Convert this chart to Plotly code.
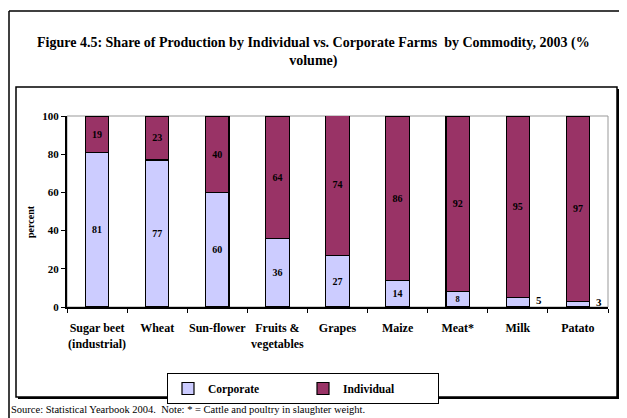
import plotly.graph_objects as go

categories = ["Sugar beet<br>(industrial)", "Wheat", "Sun-flower", "Fruits &<br>vegetables",
              "Grapes", "Maize", "Meat*", "Milk", "Patato"]
corporate = [81, 77, 60, 36, 27, 14, 8, 5, 3]
individual = [19, 23, 40, 64, 74, 86, 92, 95, 97]
y_ticks = [0, 20, 40, 60, 80, 100]

# page body has an 8px margin, so the figure is drawn 8px smaller and all
# positions below are given in window pixels
OFF = 8
W, H = 627 - OFF, 418 - OFF
L, R, T, B = 67, 608, 116, 307  # plot area in window pixels

def px(x):
    return (x - L) / (R - L)

def py(y):
    return (B - y) / (B - T)

FONT = "Liberation Serif"
small = 8  # values shown outside bar

fig = go.Figure()
fig.add_trace(go.Bar(
    x=categories, y=corporate, name="Corporate",
    marker=dict(color="#CCCCFF", line=dict(color="black", width=1.2)),
    text=[str(v) if v >= small else "" for v in corporate],
    textposition="inside", insidetextanchor="middle", textangle=0,
    textfont=dict(family=FONT, size=10, color="black", weight="bold"),
    width=0.39, hoverinfo="skip",
))
fig.add_trace(go.Bar(
    x=categories, y=individual, name="Individual",
    marker=dict(color="#993366", line=dict(color="black", width=1.2)),
    text=[str(v) for v in individual],
    textposition="inside", insidetextanchor="middle", textangle=0,
    textfont=dict(family=FONT, size=10, color="black", weight="bold"),
    width=0.39, hoverinfo="skip",
))

# small corporate values labelled to the right of the bar
for i, v in enumerate(corporate):
    if v < small:
        fig.add_annotation(x=i, y=v / 2 + 1, xref="x", yref="y", text=str(v), showarrow=False,
                           xshift=21, yanchor="middle",
                           font=dict(family=FONT, size=11, color="black", weight="bold"))

shapes = []
# outer frame (top and left visible)
shapes.append(dict(type="line", xref="paper", yref="paper", x0=px(9), x1=px(630), y0=py(11), y1=py(11),
                   line=dict(color="black", width=1.5)))
shapes.append(dict(type="line", xref="paper", yref="paper", x0=px(9), x1=px(9), y0=py(11), y1=py(420),
                   line=dict(color="black", width=1.5)))
# inner chart box with shadow
shapes.append(dict(type="rect", xref="paper", yref="paper", x0=px(18), x1=px(619), y0=py(89), y1=py(399),
                   line=dict(width=0), fillcolor="black", layer="below"))
shapes.append(dict(type="rect", xref="paper", yref="paper", x0=px(16), x1=px(617), y0=py(87), y1=py(397),
                   line=dict(color="black", width=1.5), fillcolor="white", layer="below"))
# plot area gray border
shapes.append(dict(type="rect", xref="paper", yref="paper", x0=0, x1=1, y0=0, y1=1,
                   line=dict(color="#999999", width=1), layer="below"))
# legend shadow
shapes.append(dict(type="rect", xref="paper", yref="paper", x0=px(170), x1=px(436), y0=py(376), y1=py(400),
                   line=dict(width=0), fillcolor="black", layer="below"))

fig.update_layout(
    width=W, height=H,
    margin=dict(l=L - OFF, r=W - (R - OFF), t=T - OFF, b=H - (B - OFF), autoexpand=False),
    paper_bgcolor="white", plot_bgcolor="rgba(0,0,0,0)",
    barmode="stack", bargap=0.6,
    font=dict(family=FONT, color="black"),
    showlegend=True,
    legend=dict(orientation="h", x=px(167), y=py(373), xanchor="left", yanchor="top",
                bgcolor="white", bordercolor="black", borderwidth=1,
                font=dict(family=FONT, size=11.5, color="black", weight="bold"),
                entrywidth=90, entrywidthmode="pixels", itemwidth=30,
                traceorder="normal"),
    shapes=shapes,
    xaxis=dict(type="category", showline=True, linecolor="black", linewidth=2,
               ticks="outside", ticklen=4, tickcolor="black", tickson="boundaries",
               tickangle=0, ticklabelstandoff=9, automargin=False,
               tickfont=dict(family=FONT, size=12, color="black", weight="bold"),
               showgrid=False, fixedrange=True),
    yaxis=dict(range=[0, 100], tickvals=y_ticks, showline=True, linecolor="black", linewidth=2,
               ticks="outside", ticklen=4, tickcolor="black", automargin=False,
               tickfont=dict(family=FONT, size=11, color="black", weight="bold"),
               showgrid=False, zeroline=False, fixedrange=True),
)

fig.add_annotation(xref="paper", yref="paper", x=px(313), y=py(52), xanchor="center", yanchor="middle",
                   text="Figure 4.5: Share of Production by Individual vs. Corporate Farms  by Commodity, 2003 (%<br>volume)",
                   showarrow=False, font=dict(family=FONT, size=14, color="black", weight="bold"))
fig.add_annotation(xref="paper", yref="paper", x=px(30), y=py(222), xanchor="center", yanchor="middle",
                   text="percent", textangle=-90, showarrow=False,
                   font=dict(family=FONT, size=10, color="black", weight="bold"))
fig.add_annotation(xref="paper", yref="paper", x=px(9), y=py(409), xanchor="left", yanchor="middle",
                   text="Source: Statistical Yearbook 2004.  Note: * = Cattle and poultry in slaughter weight.",
                   showarrow=False, font=dict(family=FONT, size=10.5, color="black"))

fig.write_html("out.html")
